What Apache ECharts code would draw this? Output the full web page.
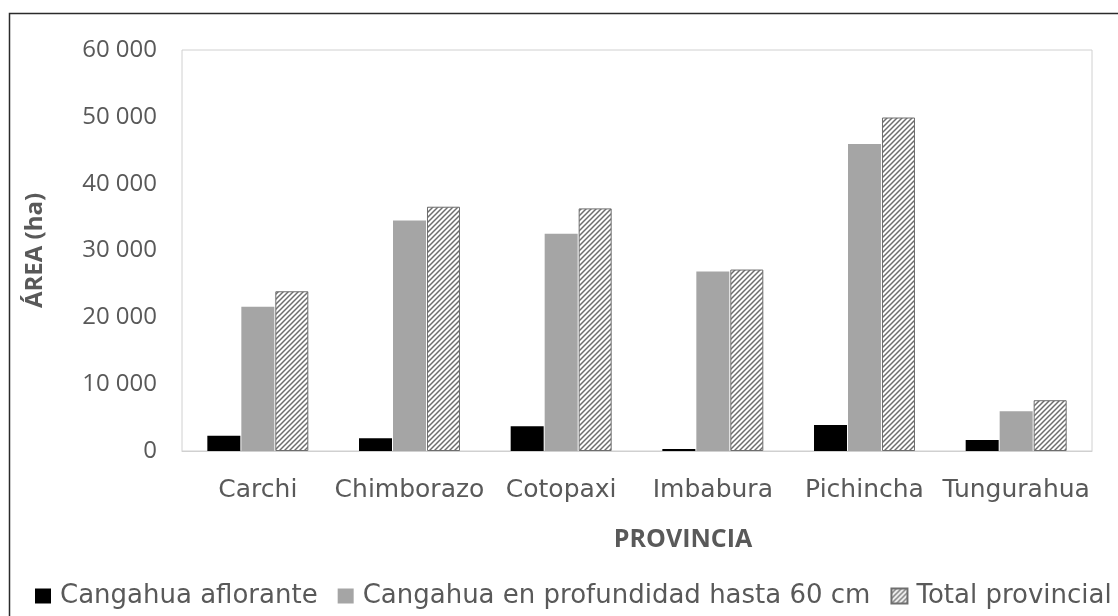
<!DOCTYPE html>
<html>
<head>
<meta charset="utf-8">
<script src="https://cdn.jsdelivr.net/npm/echarts@6/dist/echarts.min.js"></script>
<style>
  html, body { margin: 0; padding: 0; background: #fff; }
  #container { width: 1118px; height: 616px; }
</style>
</head>
<body>
<div id="container"></div>
<script>
var provincias = ['Carchi', 'Chimborazo', 'Cotopaxi', 'Imbabura', 'Pichincha', 'Tungurahua'];
var aflorante = [2300, 1900, 3700, 300, 3900, 1650];
var profundidad = [21600, 34500, 32500, 26850, 45950, 5950];
var totalProvincial = [23900, 36550, 36300, 27150, 49900, 7600];
var serieNames = ['Cangahua aflorante', 'Cangahua en profundidad hasta 60 cm', 'Total provincial'];

// diagonal hatch for the total bars
function hatch() {
  var s = 5;
  var c = document.createElement('canvas');
  c.width = s; c.height = s;
  var ctx = c.getContext('2d');
  ctx.fillStyle = '#fff';
  ctx.fillRect(0, 0, s, s);
  ctx.strokeStyle = '#6e6e6e';
  ctx.lineWidth = 1.5;
  ctx.beginPath();
  ctx.moveTo(0, s); ctx.lineTo(s, 0);
  ctx.moveTo(-1, 1); ctx.lineTo(1, -1);
  ctx.moveTo(s - 1, s + 1); ctx.lineTo(s + 1, s - 1);
  ctx.stroke();
  return c;
}

var dom = document.getElementById('container');
var myChart = echarts.init(dom, null, { renderer: 'canvas' });
var font = 'Open Sans';
var wide = 'DejaVu Sans';
var option = {
  backgroundColor: '#fff',
  animation: false,
  graphic: [{
    type: 'rect',
    shape: { x: 9.5, y: 13.5, width: 1120, height: 620 },
    style: { fill: 'none', stroke: '#2b2b2b', lineWidth: 1.5 },
    silent: true
  }],
  grid: {
    left: 182, right: 26, top: 50, bottom: 165,
    show: true, borderColor: '#d0d0d0', borderWidth: 1
  },
  legend: {
    bottom: 2, left: 30,
    itemWidth: 16, itemHeight: 15, itemGap: 20,
    icon: 'rect',
    textStyle: { fontFamily: wide, fontSize: 26, color: '#595959', padding: [0, 0, 0, 4] },
    data: serieNames
  },
  xAxis: {
    type: 'category',
    data: provincias,
    name: 'PROVINCIA',
    nameLocation: 'middle',
    nameGap: 76,
    nameMoveOverlap: false,
    nameTextStyle: {
      fontFamily: font, fontSize: 25, fontWeight: 'bold', color: '#595959',
      padding: [0, 0, 0, 92]
    },
    axisLine: { lineStyle: { color: '#d0d0d0' } },
    axisTick: { show: false },
    axisLabel: { interval: 0, margin: 27, fontFamily: wide, fontSize: 25, color: '#595959' }
  },
  yAxis: {
    type: 'value',
    min: 0, max: 60000, interval: 10000,
    name: 'ÁREA (ha)',
    nameLocation: 'middle',
    nameGap: 135,
    nameMoveOverlap: false,
    nameTextStyle: { fontFamily: font, fontSize: 24, fontWeight: 'bold', color: '#595959' },
    splitLine: { show: false },
    axisLine: { show: false },
    axisTick: { show: false },
    axisLabel: {
      margin: 25, fontFamily: font, fontSize: 24, color: '#595959',
      formatter: function (v) { return String(v).replace(/\B(?=(\d{3})+(?!\d))/g, ' '); }
    }
  },
  series: [
    {
      name: serieNames[0], type: 'bar', data: aflorante,
      barWidth: 33, barGap: '3%',
      itemStyle: { color: '#000' }
    },
    {
      name: serieNames[1], type: 'bar', data: profundidad,
      barWidth: 33, barGap: '3%',
      itemStyle: { color: '#a5a5a5' }
    },
    {
      name: serieNames[2], type: 'bar', data: totalProvincial,
      barWidth: 33, barGap: '3%',
      itemStyle: { color: { image: hatch(), repeat: 'repeat' }, borderColor: '#6e6e6e', borderWidth: 1 }
    }
  ]
};

myChart.setOption(option);
window.addEventListener('resize', myChart.resize);
</script>
</body>
</html>
